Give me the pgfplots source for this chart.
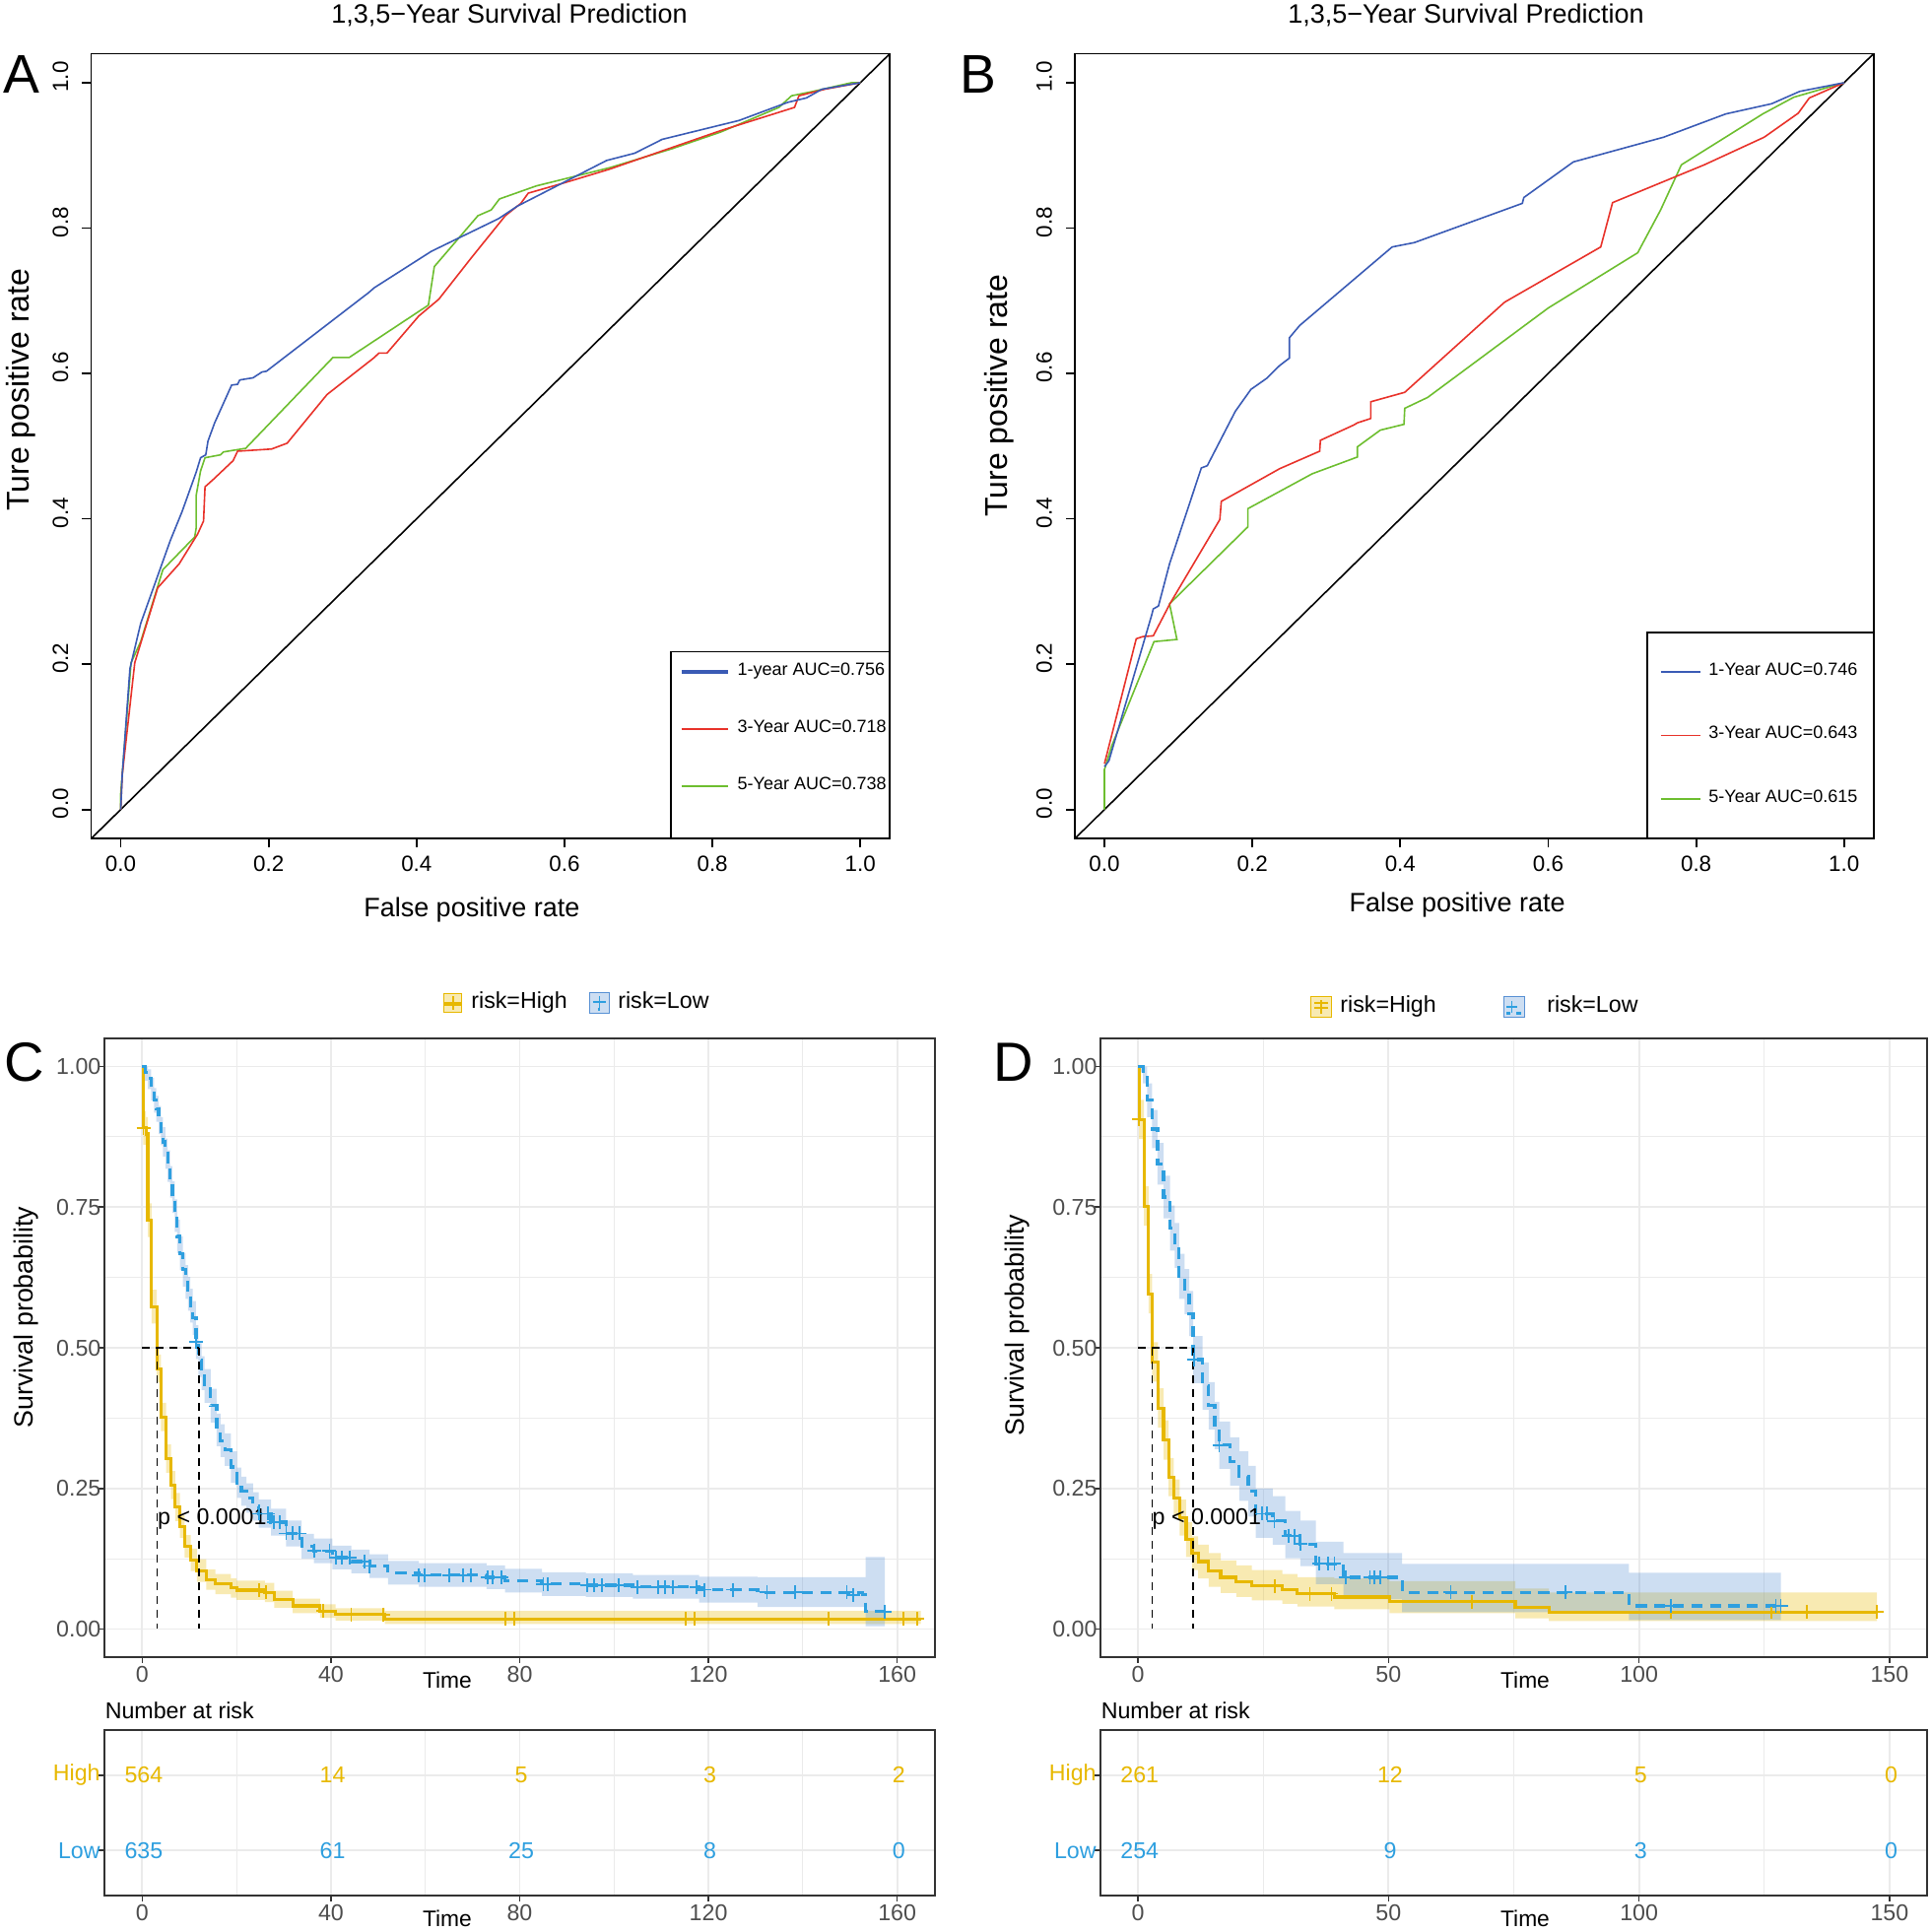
\documentclass[border=0pt]{standalone}
\usepackage{pgfplots}
\usepackage{pgfplotstable}
\pgfplotsset{compat=1.18}
\usepgfplotslibrary{fillbetween}
\usepackage{fontspec}
\setmainfont{Liberation Sans}
\definecolor{rocblue}{HTML}{3A5BB5}
\definecolor{rocred}{HTML}{E8322A}
\definecolor{rocgreen}{HTML}{6DBE2F}
\definecolor{hi}{HTML}{E7B800}
\definecolor{lo}{HTML}{2E9FDF}
\definecolor{loband}{HTML}{5891D4}
\definecolor{gridc}{HTML}{EBEBEB}
\definecolor{g20}{HTML}{333333}
\definecolor{g30}{HTML}{4D4D4D}
\newcommand{\fs}[1]{\fontsize{#1}{#1}\selectfont}

% ---------- survival data: x, step value, band low, band high ----------
\pgfplotstableread{
x y lo hi
0 1 0.99 1
0.2 0.891 0.861 0.921
0.8 0.88 0.85 0.91
1.2 0.727 0.697 0.757
2 0.573 0.543 0.603
3.1 0.463 0.438 0.488
4 0.377 0.352 0.402
5.1 0.303 0.278 0.328
6.1 0.256 0.231 0.281
7 0.217 0.192 0.242
8 0.182 0.162 0.202
9 0.147 0.127 0.167
10.3 0.123 0.103 0.143
11.6 0.104 0.084 0.124
13.6 0.088 0.07 0.106
15.5 0.08 0.062 0.098
18.8 0.073 0.056 0.09
20 0.069 0.052 0.086
26 0.065 0.048 0.082
28 0.053 0.038 0.068
31.9 0.041 0.028 0.054
37.7 0.032 0.02 0.044
41 0.026 0.015 0.037
51.4 0.018 0.009 0.032
165 0.018 0.009 0.032
}\cHigh
\pgfplotstableread{
x y lo hi
0 1 0.99 1
0.6 0.99 0.975 1
1.2 0.979 0.96 0.995
1.9 0.96 0.94 0.98
2.5 0.94 0.918 0.962
3 0.925 0.902 0.948
3.5 0.905 0.88 0.93
4 0.885 0.86 0.91
4.4 0.866 0.84 0.892
4.9 0.845 0.818 0.872
5.4 0.823 0.795 0.851
5.9 0.795 0.767 0.823
6.4 0.768 0.74 0.796
6.9 0.735 0.706 0.764
7.4 0.698 0.668 0.728
8 0.668 0.638 0.698
8.6 0.639 0.609 0.669
9.2 0.617 0.587 0.647
9.7 0.596 0.566 0.626
10.2 0.575 0.545 0.605
10.7 0.553 0.523 0.583
11.4 0.51 0.48 0.54
11.9 0.478 0.448 0.508
12.6 0.455 0.425 0.485
13.2 0.432 0.402 0.462
14.5 0.397 0.367 0.427
15.8 0.354 0.325 0.383
16.6 0.335 0.306 0.364
17.5 0.319 0.29 0.348
18.8 0.288 0.26 0.316
20.1 0.26 0.233 0.287
21 0.245 0.219 0.271
22.1 0.233 0.207 0.259
23.5 0.218 0.193 0.243
24.7 0.205 0.18 0.23
27.3 0.19 0.166 0.214
30.5 0.17 0.147 0.193
33.8 0.147 0.125 0.169
36.4 0.139 0.117 0.161
40.3 0.127 0.106 0.148
44.3 0.12 0.099 0.141
48.2 0.112 0.091 0.133
52.1 0.1 0.079 0.121
58.6 0.096 0.075 0.117
73 0.092 0.071 0.113
76.9 0.086 0.065 0.107
84.7 0.08 0.059 0.101
94 0.078 0.057 0.099
104 0.075 0.054 0.096
118 0.07 0.047 0.093
130.4 0.065 0.039 0.092
152.6 0.061 0.039 0.092
153.3 0.031 0.005 0.128
157.4 0.031 0.005 0.128
}\cLow
\pgfplotstableread{
x y lo hi
0 1 0.99 1
0.2 0.906 0.871 0.941
1.2 0.752 0.717 0.787
2.1 0.596 0.561 0.631
2.8 0.475 0.44 0.51
4 0.393 0.358 0.428
5.1 0.336 0.301 0.371
6.1 0.27 0.236 0.304
7.1 0.233 0.2 0.266
8.3 0.198 0.166 0.23
9.6 0.159 0.128 0.19
10.8 0.135 0.105 0.165
12 0.12 0.09 0.15
14.1 0.104 0.075 0.135
16.5 0.092 0.064 0.122
19.6 0.084 0.057 0.113
22.7 0.077 0.051 0.105
28.8 0.07 0.045 0.098
31.8 0.063 0.04 0.092
39.2 0.057 0.035 0.09
50.2 0.049 0.028 0.085
75.3 0.038 0.019 0.072
82 0.03 0.014 0.065
147.5 0.03 0.014 0.065
}\dHigh
\pgfplotstableread{
x y lo hi
0 1 0.99 1
1 0.987 0.97 1
1.8 0.94 0.91 0.97
2.8 0.889 0.855 0.923
3.9 0.827 0.79 0.864
5.1 0.768 0.73 0.806
6.4 0.713 0.673 0.753
7.3 0.682 0.642 0.722
8.2 0.627 0.587 0.667
9.3 0.6 0.56 0.64
10.2 0.561 0.521 0.601
11 0.479 0.437 0.521
12.9 0.432 0.39 0.474
14.1 0.397 0.355 0.439
15.3 0.362 0.32 0.404
16.2 0.327 0.285 0.369
18.4 0.298 0.255 0.341
20.2 0.272 0.228 0.316
22 0.245 0.2 0.29
23.5 0.205 0.162 0.25
26.9 0.192 0.15 0.236
29.4 0.166 0.126 0.21
32.4 0.151 0.112 0.193
35.5 0.116 0.08 0.155
41 0.092 0.053 0.135
52.7 0.065 0.03 0.116
98 0.041 0.016 0.1
128.3 0.041 0.016 0.1
}\dLow

\pgfplotsset{
 rocax/.style={scale only axis, width=202.7pt, height=199.2pt,
   xmin=-0.04, xmax=1.04, ymin=-0.04, ymax=1.04,
   xtick={0,0.2,0.4,0.6,0.8,1}, ytick={0,0.2,0.4,0.6,0.8,1},
   xticklabels={0.0,0.2,0.4,0.6,0.8,1.0}, yticklabels={0.0,0.2,0.4,0.6,0.8,1.0},
   xtick pos=left, ytick pos=left, tick align=outside, major tick length=2.25pt,
   axis line style={black, line width=0.45pt}, tick style={black, line width=0.45pt},
   ticklabel style={font=\fs{5.6}},
   xticklabel style={yshift=1.25pt},
   yticklabel style={rotate=90, anchor=south, xshift=1.5pt},
   legend cell align=left,
   legend style={draw=none, fill=none, inner sep=0pt, font=\fs{4.5}}},
 survax/.style={scale only axis, height=157pt,
   ymin=-0.05, ymax=1.05, ytick={0,0.25,0.5,0.75,1},
   yticklabels={0.00,0.25,0.50,0.75,1.00}, minor ytick={0.125,0.375,0.625,0.875},
   xtick pos=left, ytick pos=left, tick align=outside,
   major tick length=1.5pt, minor tick length=0pt,
   axis line style={g20, line width=0.5pt}, tick style={g20, line width=0.4pt},
   grid=both, major grid style={gridc, line width=0.45pt}, minor grid style={gridc, line width=0.25pt},
   ticklabel style={font=\fs{5.8}, text=g30, inner sep=0.6pt},
   yticklabel style={xshift=1.4pt},
   /pgf/number format/assume math mode=true,
   legend columns=2,
   legend style={draw=none, fill=none, inner sep=0pt, font=\fs{5.8}}},
 tabax/.style={scale only axis, height=42pt, ymin=0.4, ymax=2.6, ytick={1,2},
   yticklabels={\textcolor{lo}{Low},\textcolor{hi}{High}},
   xtick pos=left, ytick pos=left, tick align=outside,
   major tick length=1.5pt, minor tick length=0pt,
   axis line style={g20, line width=0.5pt}, tick style={g20, line width=0.4pt},
   xmajorgrids, xminorgrids, ymajorgrids,
   major grid style={gridc, line width=0.45pt}, minor grid style={gridc, line width=0.25pt},
   ticklabel style={font=\fs{5.8}, text=g30, inner sep=0.6pt},
   yticklabel style={xshift=1.2pt},
   /pgf/number format/assume math mode=true},
 risknum/.style={draw=none, mark=none,
   nodes near coords, point meta=explicit symbolic,
   every node near coord/.append style={anchor=center, font=\fs{5.8}, text=#1, xshift=0.4pt}},
}

\begin{document}
\begin{tikzpicture}

% ================= A =================
\begin{axis}[rocax, at={(23.125pt,-212.8pt)}, anchor=south west,
  legend image code/.code={\draw[#1] (0pt,0pt) -- (11.75pt,0pt);},
  legend style={at={(0.736,0.2348)}, anchor=north west, row sep=5.8pt}]
\addlegendimage{rocblue, line width=0.9pt}\addlegendentry{1-year AUC=0.756}
\addlegendimage{rocred, line width=0.45pt}\addlegendentry{3-Year AUC=0.718}
\addlegendimage{rocgreen, line width=0.45pt}\addlegendentry{5-Year AUC=0.738}
\addplot[black, line width=0.4pt] coordinates {(-0.04,-0.04) (1.04,1.04)};
\addplot[rocgreen, line width=0.4pt] table {
x y
0 0
0 0.022
0.014 0.202
0.027 0.231
0.057 0.33
0.1 0.375
0.102 0.387
0.102 0.432
0.108 0.466
0.114 0.484
0.135 0.488
0.139 0.492
0.169 0.497
0.287 0.622
0.309 0.622
0.416 0.694
0.424 0.747
0.483 0.817
0.501 0.825
0.512 0.84
0.562 0.858
0.661 0.883
0.745 0.909
0.811 0.932
0.89 0.966
0.907 0.982
0.936 0.988
0.988 1
1 1
};
\addplot[rocred, line width=0.4pt] table {
x y
0 0
0.002 0.047
0.019 0.202
0.05 0.305
0.079 0.338
0.104 0.379
0.112 0.397
0.114 0.444
0.125 0.454
0.152 0.48
0.158 0.493
0.204 0.496
0.225 0.504
0.279 0.571
0.343 0.622
0.349 0.628
0.36 0.628
0.403 0.679
0.43 0.702
0.474 0.759
0.52 0.817
0.541 0.834
0.551 0.848
0.599 0.862
0.661 0.881
0.811 0.934
0.911 0.966
0.917 0.982
0.952 0.991
1 1
};
\addplot[rocblue, line width=0.4pt] table {
x y
0 0
0.002 0.047
0.0125 0.194
0.027 0.256
0.067 0.37
0.083 0.41
0.102 0.464
0.108 0.484
0.115 0.488
0.118 0.507
0.127 0.532
0.15 0.584
0.158 0.585
0.161 0.591
0.179 0.594
0.191 0.602
0.197 0.603
0.335 0.711
0.343 0.718
0.42 0.768
0.511 0.813
0.536 0.83
0.657 0.893
0.695 0.903
0.732 0.922
0.836 0.948
0.902 0.973
0.927 0.979
0.948 0.991
1 1
};
\draw[black, line width=0.45pt] (rel axis cs:0.7261,0.238) rectangle (rel axis cs:1,0);
\end{axis}

% ================= B =================
\begin{axis}[rocax, at={(272.75pt,-212.8pt)}, anchor=south west,
  legend image code/.code={\draw[#1] (0pt,0pt) -- (10pt,0pt);},
  legend style={at={(0.7312,0.2348)}, anchor=north west, row sep=7.45pt}]
\addlegendimage{rocblue, line width=0.45pt}\addlegendentry{1-Year AUC=0.746}
\addlegendimage{rocred, line width=0.45pt}\addlegendentry{3-Year AUC=0.643}
\addlegendimage{rocgreen, line width=0.45pt}\addlegendentry{5-Year AUC=0.615}
\addplot[black, line width=0.4pt] coordinates {(-0.04,-0.04) (1.04,1.04)};
\addplot[rocgreen, line width=0.4pt] table {
x y
0 0
0 0.055
0.01 0.088
0.067 0.231
0.098 0.234
0.088 0.283
0.194 0.389
0.194 0.414
0.281 0.462
0.342 0.485
0.342 0.499
0.373 0.522
0.405 0.53
0.406 0.552
0.437 0.567
0.6 0.69
0.721 0.766
0.752 0.825
0.78 0.887
0.89 0.957
0.932 0.98
1 1
};
\addplot[rocred, line width=0.4pt] table {
x y
0 0.063
0.043 0.235
0.052 0.238
0.066 0.239
0.089 0.284
0.156 0.399
0.158 0.424
0.237 0.469
0.291 0.493
0.292 0.508
0.337 0.529
0.342 0.532
0.36 0.538
0.36 0.561
0.406 0.574
0.541 0.698
0.671 0.774
0.687 0.835
0.811 0.887
0.892 0.925
0.938 0.958
0.953 0.979
1 1
};
\addplot[rocblue, line width=0.4pt] table {
x y
0 0.059
0.006 0.067
0.064 0.268
0.066 0.276
0.073 0.28
0.088 0.338
0.131 0.47
0.139 0.473
0.177 0.548
0.198 0.578
0.219 0.593
0.237 0.611
0.25 0.621
0.25 0.649
0.264 0.666
0.389 0.774
0.419 0.78
0.565 0.834
0.567 0.842
0.634 0.891
0.756 0.925
0.84 0.957
0.902 0.971
0.94 0.988
1 1
};
\draw[black, line width=0.45pt] (rel axis cs:0.7164,0.2627) rectangle (rel axis cs:1,0);
\end{axis}

% ================= C =================
\begin{axis}[survax, at={(26.5pt,-420.5pt)}, anchor=south west, width=210.75pt,
  xmin=-8, xmax=168, xtick={0,40,80,120,160}, minor xtick={20,60,100,140},
  legend style={at={(0.4057,1.0573)}, anchor=west,
    /tikz/every even column/.append style={column sep=3.5pt}}]
\addlegendimage{legend image code/.code={
  \fill[hi, fill opacity=0.3] (0pt,-2.4pt) rectangle (4.5pt,2.4pt);
  \draw[hi, line width=0.9pt] (0pt,-0.2pt) -- (4.5pt,-0.2pt);
  \draw[hi, line width=0.45pt] (2.25pt,-1.7pt) -- (2.25pt,1.7pt) (0.5pt,0pt) -- (4pt,0pt);}}
\addlegendentry{risk=High}
\addlegendimage{legend image code/.code={
  \fill[loband, fill opacity=0.3] (0pt,-2.6pt) rectangle (5pt,2.6pt);
  \draw[lo, line width=0.8pt] (2.1pt,-1.6pt) -- (2.6pt,-1.6pt);
  \draw[lo, line width=0.45pt] (2.5pt,-1.7pt) -- (2.5pt,1.7pt) (0.8pt,0.2pt) -- (4.2pt,0.2pt);}}
\addlegendentry{risk=Low}
\addplot[name path=chl, draw=none, const plot] table[x=x,y=lo] {\cHigh};
\addplot[name path=chh, draw=none, const plot] table[x=x,y=hi] {\cHigh};
\addplot[fill=hi, fill opacity=0.3, draw=none] fill between[of=chl and chh];
\addplot[name path=cll, draw=none, const plot] table[x=x,y=lo] {\cLow};
\addplot[name path=clh, draw=none, const plot] table[x=x,y=hi] {\cLow};
\addplot[fill=loband, fill opacity=0.3, draw=none] fill between[of=cll and clh];
\addplot[hi, const plot, line width=0.8pt] table[x=x,y=y] {\cHigh};
\addplot[lo, const plot, line width=0.8pt, dash pattern=on 2.8pt off 1.9pt] table[x=x,y=y] {\cLow};
\addplot[hi, only marks, mark=+, mark size=1.75pt, line width=0.45pt] table {
x y
0.26 0.891
24.7 0.069
26.2 0.065
38.4 0.032
44.3 0.026
51 0.026
76.9 0.018
78.8 0.018
115.1 0.018
117 0.018
145.4 0.018
161.3 0.018
164.3 0.018
};
\addplot[lo, only marks, mark=+, mark size=1.75pt, line width=0.45pt] table {
x y
11.4 0.51
24.7 0.205
26.6 0.205
27.9 0.19
29.2 0.19
30.5 0.17
31.9 0.17
33.4 0.17
36.4 0.139
39.7 0.139
41 0.127
42.3 0.127
44 0.127
47.1 0.12
48.2 0.112
58.6 0.096
59.9 0.096
65.1 0.096
68 0.096
69.7 0.096
73.2 0.092
74.3 0.092
76.2 0.092
85 0.08
86 0.08
94.3 0.078
95.8 0.078
97.5 0.078
101 0.078
105 0.075
109.3 0.075
110.8 0.075
112.4 0.075
117.4 0.075
119.1 0.07
125.2 0.07
132.4 0.065
138.3 0.065
149.3 0.065
150.7 0.061
157.4 0.031
};
\addplot[black, line width=0.4pt, dash pattern=on 2pt off 1.5pt] coordinates {(0,0.5) (12.0,0.5)};
\addplot[black, line width=0.4pt, dash pattern=on 2pt off 1.5pt] coordinates {(3.13,0.5) (3.13,0)};
\addplot[black, line width=0.4pt, dash pattern=on 2pt off 1.5pt] coordinates {(12.0,0.5) (12.0,0)};
\node[anchor=base west, inner sep=0pt, font=\fs{5.8}] at (axis cs:3.15,0.186) {p < 0.0001};
\end{axis}

% ================= D =================
\begin{axis}[survax, at={(279.25pt,-420.5pt)}, anchor=south west, width=209.75pt,
  xmin=-7.5, xmax=157.5, xtick={0,50,100,150}, minor xtick={25,75,125},
  legend style={at={(0.2527,1.051)}, anchor=west,
    /tikz/every even column/.append style={column sep=15pt}}]
\addlegendimage{legend image code/.code={
  \fill[hi, fill opacity=0.3] (0pt,-2.6pt) rectangle (5.25pt,2.6pt);
  \draw[hi, line width=0.45pt] (0.8pt,0.9pt) -- (4.4pt,0.9pt) (2.6pt,-1.8pt) -- (2.6pt,1.8pt) (0.8pt,-0.2pt) -- (4.4pt,-0.2pt);}}
\addlegendentry{risk=High}
\addlegendimage{legend image code/.code={
  \fill[loband, fill opacity=0.3] (0pt,-2.6pt) rectangle (5.25pt,2.6pt);
  \draw[lo, line width=0.45pt] (0.6pt,0pt) -- (3.4pt,0pt) (2pt,-1.5pt) -- (2pt,1.5pt);
  \draw[lo, line width=0.8pt] (0.6pt,-1.6pt) -- (1.6pt,-1.6pt) (3.2pt,-1.6pt) -- (4.4pt,-1.6pt);}}
\addlegendentry{\hspace{3.5pt}risk=Low}
\addplot[name path=dhl, draw=none, const plot] table[x=x,y=lo] {\dHigh};
\addplot[name path=dhh, draw=none, const plot] table[x=x,y=hi] {\dHigh};
\addplot[fill=hi, fill opacity=0.3, draw=none] fill between[of=dhl and dhh];
\addplot[name path=dll, draw=none, const plot] table[x=x,y=lo] {\dLow};
\addplot[name path=dlh, draw=none, const plot] table[x=x,y=hi] {\dLow};
\addplot[fill=loband, fill opacity=0.3, draw=none] fill between[of=dll and dlh];
\addplot[hi, const plot, line width=0.8pt] table[x=x,y=y] {\dHigh};
\addplot[lo, const plot, line width=0.8pt, dash pattern=on 2.8pt off 1.9pt] table[x=x,y=y] {\dLow};
\addplot[hi, only marks, mark=+, mark size=1.75pt, line width=0.45pt] table {
x y
0.2 0.906
27.3 0.077
34.3 0.063
38.6 0.063
66.7 0.049
106.3 0.03
126.4 0.03
133.5 0.03
147.5 0.03
};
\addplot[lo, only marks, mark=+, mark size=1.75pt, line width=0.45pt] table {
x y
11.2 0.479
16.2 0.327
24.7 0.205
25.7 0.205
27.2 0.192
30 0.166
31.2 0.166
32.4 0.151
36.1 0.116
38 0.116
39.2 0.116
41.4 0.092
46.3 0.092
47.1 0.092
48.3 0.092
62.4 0.065
85.3 0.065
106.3 0.041
127.3 0.041
128.3 0.041
};
\addplot[black, line width=0.4pt, dash pattern=on 2pt off 1.5pt] coordinates {(0,0.5) (11.0,0.5)};
\addplot[black, line width=0.4pt, dash pattern=on 2pt off 1.5pt] coordinates {(2.8,0.5) (2.8,0)};
\addplot[black, line width=0.4pt, dash pattern=on 2pt off 1.5pt] coordinates {(11.0,0.5) (11.0,0)};
\node[anchor=base west, inner sep=0pt, font=\fs{5.8}] at (axis cs:2.7,0.186) {p < 0.0001};
\end{axis}

% ================= risk table C =================
\begin{axis}[tabax, at={(26.5pt,-481pt)}, anchor=south west, width=210.75pt,
  xmin=-8, xmax=168, xtick={0,40,80,120,160}, minor xtick={20,60,100,140}]
\addplot[risknum=hi] table[meta=n] {
x y n
0 2 564
40 2 14
80 2 5
120 2 3
160 2 2
};
\addplot[risknum=lo] table[meta=n] {
x y n
0 1 635
40 1 61
80 1 25
120 1 8
160 1 0
};
\end{axis}

% ================= risk table D =================
\begin{axis}[tabax, at={(279.25pt,-481pt)}, anchor=south west, width=209.75pt,
  xmin=-7.5, xmax=157.5, xtick={0,50,100,150}, minor xtick={25,75,125}]
\addplot[risknum=hi] table[meta=n] {
x y n
0 2 261
50 2 12
100 2 5
150 2 0
};
\addplot[risknum=lo] table[meta=n] {
x y n
0 1 254
50 1 9
100 1 3
150 1 0
};
\end{axis}

% ================= text =================
\node[anchor=base, inner sep=0pt, font=\fs{6.75}] at (129.25pt,-5.75pt) {1,3,5−Year Survival Prediction};
\node[anchor=base, inner sep=0pt, font=\fs{6.75}] at (372pt,-5.75pt) {1,3,5−Year Survival Prediction};
\node[anchor=base west, inner sep=0pt, font=\fs{13.8}] at (0.75pt,-23.5pt) {A};
\node[anchor=base west, inner sep=0pt, font=\fs{13.8}] at (243.5pt,-23.5pt) {B};
\node[anchor=base west, inner sep=0pt, font=\fs{14}] at (1pt,-274.25pt) {C};
\node[anchor=base west, inner sep=0pt, font=\fs{14}] at (252pt,-274.25pt) {D};
\node[anchor=base, inner sep=0pt, font=\fs{6.75}] at (119.7pt,-232.5pt) {False positive rate};
\node[anchor=base, inner sep=0pt, font=\fs{6.75}] at (369.8pt,-231.3pt) {False positive rate};
\node[rotate=90, anchor=base, inner sep=0pt, font=\fs{8}] at (7.25pt,-98.9pt) {Ture positive rate};
\node[rotate=90, anchor=base, inner sep=0pt, font=\fs{8}] at (255.5pt,-100.4pt) {Ture positive rate};
\node[rotate=90, anchor=base, inner sep=0pt, font=\fs{6.7}] at (8.5pt,-334.25pt) {Survival probability};
\node[rotate=90, anchor=base, inner sep=0pt, font=\fs{6.7}] at (259.9pt,-336.25pt) {Survival probability};
\node[anchor=base, inner sep=0pt, font=\fs{5.7}] at (113.5pt,-428.25pt) {Time};
\node[anchor=base, inner sep=0pt, font=\fs{5.7}] at (387pt,-428.25pt) {Time};
\node[anchor=base, inner sep=0pt, font=\fs{5.7}] at (113.5pt,-488.75pt) {Time};
\node[anchor=base, inner sep=0pt, font=\fs{5.7}] at (387pt,-488.75pt) {Time};
\node[anchor=base west, inner sep=0pt, font=\fs{5.8}] at (26.5pt,-436pt) {Number at risk};
\node[anchor=base west, inner sep=0pt, font=\fs{5.8}] at (279.25pt,-436pt) {Number at risk};

\pgfresetboundingbox
\useasboundingbox (0,0) rectangle (490pt,-490.25pt);
\end{tikzpicture}
\end{document}
